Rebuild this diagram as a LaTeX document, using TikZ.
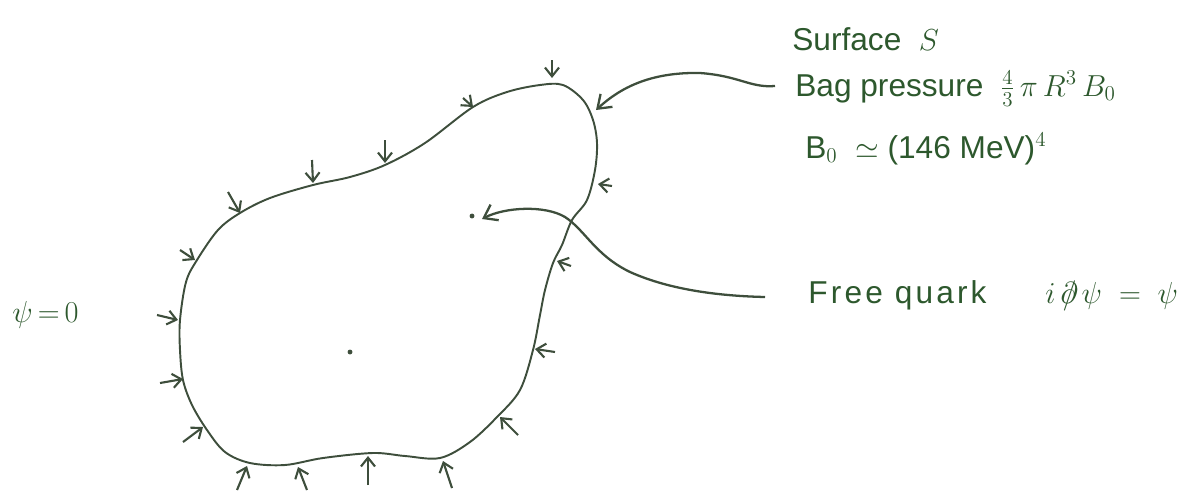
\documentclass[tikz,border=0pt]{standalone}
\usepackage{fontspec}
\setmainfont{Liberation Sans}
\usetikzlibrary{arrows.meta}
\definecolor{ink}{RGB}{62,78,60}
\definecolor{txt}{RGB}{45,88,45}
\begin{document}
\begin{tikzpicture}[x=0.02cm,y=-0.02cm,
  bag/.style={draw=ink,line width=1.1pt},
  push/.style={draw=ink,line width=1.2pt,-{Straight Barb[length=5pt,width=8pt,line width=1.2pt]}},
  lead/.style={draw=ink,line width=1.3pt,-{Straight Barb[length=7pt,width=10pt,line width=1.3pt]}},
  lbl/.style={anchor=base west,inner sep=0pt,text=txt,font=\fontsize{18}{22}\selectfont}]
\useasboundingbox (0,0) rectangle (1202,494);
% bag surface
\draw[bag] plot[smooth cycle,tension=0.55] coordinates {
 (563,85) (583,100) (593,120) (597,143) (595,170) (587,200) (572,220) (562,245)
 (553,263) (545,290) (540,315) (533,350) (520,390) (497,417) (470,442) (440,458)
 (405,456) (373,453) (323,458) (285,465) (250,463) (225,452) (207,430) (192,405)
 (183,380) (180,350) (180,320) (186,282) (197,260) (218,230) (240,213) (270,198)
 (313,185) (350,177) (385,165) (425,143) (473,107) (507,92) (540,85)};
% pressure arrows
\foreach \ax/\ay/\bx/\by in {552/60/552/78, 463/98/473/107, 385/140/385/163,
  312/160/313/183, 228/192/240/213, 180/250/195/260, 157/315/178/320,
  160/383/183/379, 183/442/203/427, 237/490/247/466, 307/490/298/467,
  368/485/368/456, 452/488/443/461, 518/435/500/417, 555/352/535/349,
  571/266/557/261, 612/186/598/184}
  \draw[push] (\ax,\ay) -- (\bx,\by);
% dots
\coordinate (centre) at (350,352);
\coordinate (quark) at (472,216);
\fill[ink] (centre) circle (1.4pt);
\fill[ink] (quark) circle (1.4pt);
% labels
\node[lbl] (surf) at (792,50) {Surface\ \ $S$};
\node[lbl] (bagp) at (795,96) {Bag pressure};
\node[lbl] (bagf) at (1000,96) {${\textstyle\frac{4}{3}}\,\pi\, R^3\, B_0$};
\node[lbl] (bnull) at (805,158) {B$_0$\ \ $\simeq$\ (146\ MeV)$^4$};
\node[lbl,font=\fontsize{18}{22}\selectfont\addfontfeature{LetterSpace=10}] (fq) at (808,303) {Free quark};
\node[lbl] (dirac) at (1045,303) {$i\,\partial\!\!\!/\,\psi \;=\; \psi$};
\node[lbl] (bc) at (12,322) {$\psi\,{=}\,0$};
% leaders
\coordinate (bp0) at (775,86);
\coordinate (bp1) at (596,110);
\coordinate (fq0) at (765,297);
\coordinate (fq1) at (482,219);
\draw[lead] (bp0) .. controls (750,88) and (740,76) .. (700,73)
  .. controls (650,72) and (620,88) .. (bp1);
\draw[lead] (fq0) .. controls (720,296) and (670,290) .. (630,272)
  .. controls (595,255) and (585,230) .. (565,217)
  .. controls (545,205) and (505,207) .. (fq1);
\end{tikzpicture}
\end{document}
